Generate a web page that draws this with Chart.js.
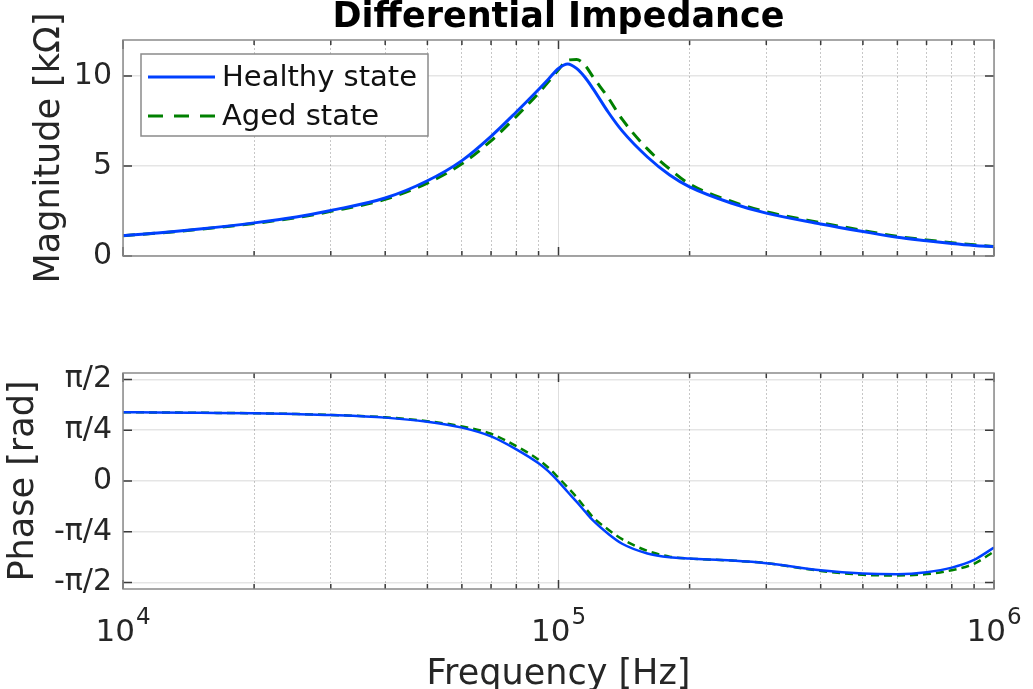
<!DOCTYPE html>
<html>
<head>
<meta charset="utf-8">
<script src="https://cdn.jsdelivr.net/npm/chart.js@4.4.1/dist/chart.umd.min.js"></script>
<style>
  body { margin: 0; background: #fff; }
  #wrap { position: relative; width: 1033px; height: 689px; }
  canvas { position: absolute; left: 0; }
</style>
</head>
<body>
<div id="wrap">
  <canvas id="mag" width="1033" height="310" style="top:0"></canvas>
  <canvas id="phase" width="1033" height="379" style="top:310px"></canvas>
</div>
<script>
// frequency samples [Hz]
const freq = [10000, 12000, 15000, 20000, 25000, 30000, 40000, 50000, 60000, 70000,
  80000, 90000, 95000, 100000, 105000, 110000, 115000, 120000, 130000, 140000,
  160000, 180000, 200000, 250000, 300000, 400000, 500000, 600000, 700000, 800000,
  900000, 1000000];

// magnitude [kOhm]
const magHealthy = [1.14, 1.28, 1.5, 1.84, 2.17, 2.53, 3.22, 4.18, 5.3, 6.65,
  8.0, 9.25, 9.85, 10.42, 10.67, 10.42, 9.93, 9.3, 8.0, 6.95,
  5.5, 4.5, 3.84, 2.93, 2.38, 1.78, 1.36, 1.04, 0.85, 0.70,
  0.59, 0.52];
const magAged = [1.13, 1.27, 1.48, 1.81, 2.13, 2.48, 3.15, 4.05, 5.12, 6.4,
  7.75, 9.05, 9.7, 10.35, 10.88, 10.92, 10.6, 9.95, 8.8, 7.6,
  5.95, 4.83, 4.0, 3.03, 2.46, 1.85, 1.42, 1.09, 0.89, 0.74,
  0.62, 0.53];

// phase [rad]
const phaseHealthy = [1.063, 1.06, 1.055, 1.048, 1.035, 1.02, 0.98, 0.915, 0.825, 0.69,
  0.49, 0.274, 0.144, -0.01, -0.17, -0.32, -0.47, -0.61, -0.815, -0.97,
  -1.12, -1.18, -1.2, -1.23, -1.27, -1.38, -1.43, -1.44, -1.41, -1.34,
  -1.22, -1.03];
const phaseAged = [1.063, 1.06, 1.055, 1.048, 1.036, 1.022, 0.985, 0.925, 0.845, 0.73,
  0.54, 0.33, 0.2, 0.05, -0.1, -0.25, -0.41, -0.56, -0.75, -0.9,
  -1.08, -1.17, -1.2, -1.23, -1.27, -1.39, -1.45, -1.46, -1.44, -1.38,
  -1.28, -1.09];

const seriesLabels = ['Healthy state', 'Aged state'];
const freqTicks = [1e4, 2e4, 3e4, 4e4, 5e4, 6e4, 7e4, 8e4, 9e4,
  1e5, 2e5, 3e5, 4e5, 5e5, 6e5, 7e5, 8e5, 9e5, 1e6];
const decadeTicks = [1e4, 1e5, 1e6];
const magTicks = [0, 5, 10];
const phaseTicks = [-Math.PI / 2, -Math.PI / 4, 0, Math.PI / 4, Math.PI / 2];
const phaseTickLabels = ['-π/2', '-π/4', '0', 'π/4', 'π/2'];

const FONT = '"DejaVu Sans", sans-serif';
const BLUE = 'rgb(0, 64, 255)';
const GREEN = 'rgb(0, 128, 0)';
const TXT = '#262626';

Chart.defaults.font.family = FONT;

function isDecade(v) {
  return decadeTicks.includes(v);
}

function series(values) {
  return freq.map((f, i) => ({ x: f, y: values[i] }));
}

// frame box and inward tick marks, like matlab axes
const axesBox = {
  id: 'axesBox',
  afterDraw(chart, args, opts) {
    const { ctx, chartArea: a, scales: { x, y } } = chart;
    ctx.save();
    ctx.lineWidth = 1.5;
    ctx.strokeStyle = '#3a3a3a';
    ctx.beginPath();
    freqTicks.forEach(v => {
      const px = x.getPixelForValue(v);
      const len = isDecade(v) ? 9 : 5;
      ctx.moveTo(px, a.bottom); ctx.lineTo(px, a.bottom - len);
      ctx.moveTo(px, a.top); ctx.lineTo(px, a.top + len);
    });
    opts.yTicks.forEach(v => {
      const py = y.getPixelForValue(v);
      ctx.moveTo(a.left, py); ctx.lineTo(a.left + 9, py);
      ctx.moveTo(a.right, py); ctx.lineTo(a.right - 9, py);
    });
    ctx.stroke();
    ctx.strokeStyle = '#8a8a8a';
    ctx.strokeRect(a.left, a.top, a.right - a.left, a.bottom - a.top);
    ctx.restore();
  }
};

// legend box inside the top axes
const boxLegend = {
  id: 'boxLegend',
  afterDraw(chart, args, opts) {
    if (!opts.show) return;
    const { ctx, chartArea: a } = chart;
    const bx = a.left + 18, by = a.top + 14, bw = 287, bh = 82;
    ctx.save();
    ctx.fillStyle = '#fff';
    ctx.fillRect(bx, by, bw, bh);
    ctx.strokeStyle = '#8a8a8a';
    ctx.lineWidth = 1.5;
    ctx.strokeRect(bx, by, bw, bh);
    chart.data.datasets.forEach((ds, i) => {
      const yy = by + 23 + i * 39;
      ctx.strokeStyle = ds.borderColor;
      ctx.lineWidth = 3;
      ctx.setLineDash(i === 1 ? [15, 11] : []);
      ctx.beginPath();
      ctx.moveTo(bx + 7, yy);
      ctx.lineTo(bx + 74, yy);
      ctx.stroke();
      ctx.setLineDash([]);
      ctx.fillStyle = '#111';
      ctx.font = '29px ' + FONT;
      ctx.textBaseline = 'middle';
      ctx.fillText(ds.label, bx + 81, yy + 1);
    });
    ctx.restore();
  }
};

// 10^n labels under the bottom axes
const powerLabels = {
  id: 'powerLabels',
  afterDraw(chart, args, opts) {
    if (!opts.show) return;
    const { ctx, chartArea: a, scales: { x } } = chart;
    const base = a.bottom + 52;
    ctx.save();
    ctx.fillStyle = TXT;
    ctx.textBaseline = 'alphabetic';
    decadeTicks.forEach(v => {
      const px = x.getPixelForValue(v);
      const exp = String(Math.round(Math.log10(v)));
      ctx.font = '31px ' + FONT;
      const w1 = ctx.measureText('10').width;
      ctx.font = '23px ' + FONT;
      const w2 = ctx.measureText(exp).width;
      const left = px - (w1 + w2 + 1) / 2;
      ctx.font = '31px ' + FONT;
      ctx.fillText('10', left, base);
      ctx.font = '23px ' + FONT;
      ctx.fillText(exp, left + w1 + 1, base - 17);
    });
    ctx.restore();
  }
};

function xScale(height, withTitle) {
  return {
    type: 'logarithmic',
    min: 1e4,
    max: 1e6,
    afterBuildTicks: s => { s.ticks = freqTicks.map(v => ({ value: v })); },
    afterFit: s => { s.height = height; s.paddingLeft = 0; s.paddingRight = 0; },
    ticks: { display: false },
    grid: {
      drawTicks: false,
      lineWidth: 1,
      color: c => (c.tick && isDecade(c.tick.value)) ? 'rgba(0,0,0,0.13)' : 'rgba(0,0,0,0.22)'
    },
    border: {
      display: false,
      dash: c => (c.tick && !isDecade(c.tick.value)) ? [2, 2] : []
    },
    title: {
      display: withTitle,
      text: 'Frequency [Hz]',
      color: TXT,
      font: { size: 35, lineHeight: 1 },
      padding: { top: 0, bottom: -3 }
    }
  };
}

function yScale(min, max, ticks, labels, title, titlePad) {
  return {
    min: min,
    max: max,
    afterBuildTicks: s => { s.ticks = ticks.map(v => ({ value: v })); },
    afterFit: s => { s.width = 123; s.paddingTop = 0; s.paddingBottom = 0; },
    ticks: {
      color: TXT,
      font: { size: 30 },
      padding: 11,
      autoSkip: false,
      callback: (v, i) => labels ? labels[i] : String(v)
    },
    grid: { drawTicks: false, color: 'rgba(0,0,0,0.1)', lineWidth: 1.5 },
    border: { display: false },
    title: {
      display: true,
      text: title,
      color: TXT,
      font: { size: 35, lineHeight: 1 },
      padding: { top: titlePad, bottom: 0 }
    }
  };
}

function datasets(a, b, width, dash) {
  return [
    {
      label: seriesLabels[0], data: series(a), borderColor: BLUE, borderWidth: width,
      pointRadius: 0, cubicInterpolationMode: 'monotone', fill: false
    },
    {
      label: seriesLabels[1], data: series(b), borderColor: GREEN, borderWidth: width,
      borderDash: dash, pointRadius: 0, cubicInterpolationMode: 'monotone', fill: false
    }
  ];
}

new Chart(document.getElementById('mag'), {
  type: 'line',
  data: { datasets: datasets(magHealthy, magAged, 3, [12, 8]) },
  options: {
    responsive: false,
    animation: false,
    events: [],
    layout: { padding: { top: 0, right: 39, left: 0, bottom: 0 } },
    plugins: {
      legend: { display: false },
      tooltip: { enabled: false },
      title: {
        display: true,
        text: 'Differential Impedance',
        fullSize: false,
        color: '#000',
        font: { size: 35, weight: 'bold', lineHeight: 1 },
        padding: { top: 0, bottom: 5 }
      },
      axesBox: { yTicks: magTicks },
      boxLegend: { show: true },
      powerLabels: { show: false }
    },
    scales: {
      x: xScale(54, false),
      y: yScale(0, 12, magTicks, null, 'Magnitude [kΩ]', 32)
    }
  },
  plugins: [axesBox, boxLegend, powerLabels]
});

new Chart(document.getElementById('phase'), {
  type: 'line',
  data: { datasets: datasets(phaseHealthy, phaseAged, 2.5, [8, 5]) },
  options: {
    responsive: false,
    animation: false,
    events: [],
    layout: { padding: { top: 63, right: 39, left: 0, bottom: 0 } },
    plugins: {
      legend: { display: false },
      tooltip: { enabled: false },
      axesBox: { yTicks: phaseTicks },
      boxLegend: { show: false },
      powerLabels: { show: true }
    },
    scales: {
      x: xScale(100, true),
      y: yScale(-1.67, 1.67, phaseTicks, phaseTickLabels, 'Phase [rad]', 6)
    }
  },
  plugins: [axesBox, boxLegend, powerLabels]
});
</script>
</body>
</html>
